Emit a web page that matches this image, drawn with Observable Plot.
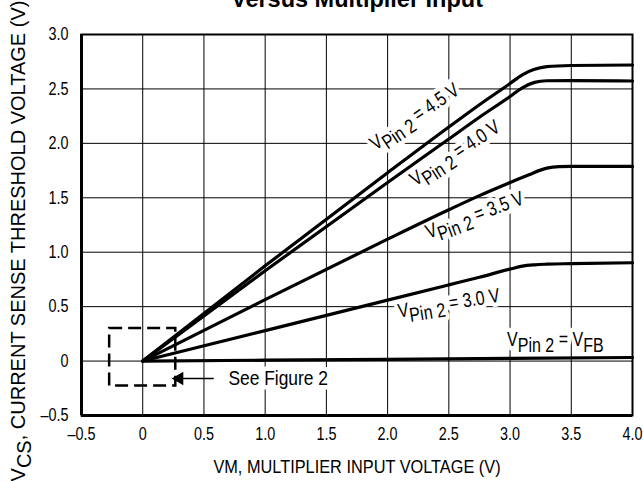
<!DOCTYPE html>
<html>
<head>
<meta charset="utf-8">
<script src="https://cdn.jsdelivr.net/npm/d3@7"></script>
<script src="https://cdn.jsdelivr.net/npm/@observablehq/plot@0.6"></script>
<style>
  body { margin: 0; background: white; }
</style>
</head>
<body>
<div id="chart"></div>
<script>
// ---- data ----
const xTicks = [-0.5, 0, 0.5, 1.0, 1.5, 2.0, 2.5, 3.0, 3.5, 4.0];
const yTicks = [-0.5, 0, 0.5, 1.0, 1.5, 2.0, 2.5, 3.0];

const vm45 = [0, 1.0, 2.0, 2.5, 2.75, 3.0, 3.1, 3.2, 3.3, 3.5, 4.0];
const vcs45 = [0, 0.875, 1.73, 2.15, 2.355, 2.55, 2.63, 2.68, 2.705, 2.715, 2.72];

const vm40 = [0, 1.0, 2.0, 2.5, 2.75, 3.0, 3.1, 3.2, 3.3, 3.5, 4.0];
const vcs40 = [0, 0.83, 1.64, 2.04, 2.24, 2.43, 2.51, 2.56, 2.575, 2.577, 2.573];

const vm35 = [0, 1.0, 2.0, 2.5, 2.75, 3.0, 3.15, 3.3, 3.4, 3.5, 4.0];
const vcs35 = [0, 0.565, 1.12, 1.39, 1.52, 1.64, 1.71, 1.772, 1.786, 1.788, 1.788];

const vm30 = [0, 1.0, 2.0, 2.5, 2.75, 3.0, 3.1, 3.2, 3.3, 3.5, 4.0];
const vcs30 = [0, 0.28, 0.56, 0.70, 0.77, 0.845, 0.872, 0.884, 0.89, 0.895, 0.903];

const vmFB = [0, 1.0, 2.0, 3.0, 4.0];
const vcsFB = [0, 0.008, 0.016, 0.025, 0.033];

const seriesNames = ["4.5", "4.0", "3.5", "3.0", "FB"];
const labelTexts = ["V_{Pin 2} = 4.5 V", "V_{Pin 2} = 4.0 V", "V_{Pin 2} = 3.5 V", "V_{Pin 2} = 3.0 V", "V_{Pin 2} = V_{FB}"];
const labelX = [2.22, 2.55, 2.71, 2.50, 3.37];
const labelY = [2.245, 1.91, 1.34, 0.53, 0.20];
const labelAngle = [-34, -33, -20, -9, 0];

const boxX = [-0.27, 0.27];
const boxY = [-0.23, 0.30];
const arrowX = [0.58, 0.30];
const arrowY = -0.16;
const noteText = "See Figure 2";
const noteX = 0.70;

const titleText = "Versus Multiplier Input";
const xTitle = "VM, MULTIPLIER INPUT VOLTAGE (V)";
const yTitle = "V_{CS}, CURRENT SENSE THRESHOLD VOLTAGE (V)";

// ---- build tables ----
const seriesX = [vm45, vm40, vm35, vm30, vmFB];
const seriesY = [vcs45, vcs40, vcs35, vcs30, vcsFB];
const rows = [];
seriesNames.forEach((s, i) => seriesX[i].forEach((x, j) => rows.push({s, x, y: seriesY[i][j]})));
const labels = labelTexts.map((t, i) => ({t, x: labelX[i], y: labelY[i], a: labelAngle[i]}));

const fmt = d => d === 0 ? "0" : (d < 0 ? "\u2013" : "") + Math.abs(d).toFixed(1);
const FONT = '"Liberation Sans", Arial, sans-serif';

const labelOpts = {x: "x", y: "y", text: "t", rotate: "a", fontSize: 20, textAnchor: "middle"};

const chart = Plot.plot({
  width: 643,
  height: 481,
  marginTop: 34,
  marginRight: 11,
  marginBottom: 66,
  marginLeft: 81,
  style: {fontFamily: FONT, background: "white", color: "black", overflow: "visible"},
  x: {domain: [-0.5, 4.0]},
  y: {domain: [-0.5, 3.0]},
  marks: [
    Plot.gridX({ticks: xTicks, stroke: "black", strokeOpacity: 1, strokeWidth: 1}),
    Plot.gridY({ticks: yTicks, stroke: "black", strokeOpacity: 1, strokeWidth: 1}),
    Plot.frame({stroke: "black", strokeWidth: 2}),
    Plot.ruleX([-0.5], {stroke: "black", strokeWidth: 3}),
    Plot.ruleY([-0.5], {stroke: "black", strokeWidth: 3}),
    Plot.axisX({ticks: xTicks, tickSize: 0, tickPadding: 12, tickFormat: fmt, label: null, fontSize: 18}),
    Plot.axisY({ticks: yTicks, tickSize: 0, tickPadding: 13, tickFormat: fmt, label: null, fontSize: 18}),
    // label halos (break gridlines)
    Plot.text(labels, {...labelOpts, fill: "white", stroke: "white", strokeWidth: 9}),
    Plot.text([noteText], {x: noteX, y: arrowY, text: d => d, textAnchor: "start", fontSize: 20, fill: "white", stroke: "white", strokeWidth: 9, className: "sx87"}),
    // dashed box
    Plot.rect([0], {x1: boxX[0], x2: boxX[1], y1: boxY[0], y2: boxY[1], fill: "none", stroke: "black", strokeWidth: 2.5, strokeDasharray: "13,6"}),
    // curves
    Plot.line(rows, {x: "x", y: "y", z: "s", stroke: "black", strokeWidth: 3.2, curve: "monotone-x"}),
    // arrow
    Plot.link([0], {x1: arrowX[0], y1: arrowY, x2: arrowX[1], y2: arrowY, stroke: "black", strokeWidth: 1.5}),
    Plot.dot([0], {x: arrowX[1], y: arrowY, symbol: "triangle", r: 5, rotate: -90, fill: "black", stroke: "none"}),
    // labels
    Plot.text(labels, {...labelOpts, fill: "black"}),
    Plot.text([noteText], {x: noteX, y: arrowY, text: d => d, textAnchor: "start", fontSize: 20, fill: "black", className: "sx87"}),
    // titles
    Plot.text([titleText], {frameAnchor: "top", lineAnchor: "middle", dy: -35.5, text: d => d, fontSize: 23.5, fontWeight: "bold", className: "sx100"}),
    Plot.text([xTitle], {frameAnchor: "bottom", lineAnchor: "middle", textAnchor: "middle", dy: 51, text: d => d, fontSize: 19, className: "sx86"}),
    Plot.text([yTitle], {frameAnchor: "left", lineAnchor: "middle", textAnchor: "middle", dx: -63, dy: 16, rotate: -90, text: d => d, fontSize: 20, className: "sx100"})
  ]
});

// subscripts: turn "_{...}" into lowered tspans
const ns = "http://www.w3.org/2000/svg";
chart.querySelectorAll("text").forEach(node => {
  const s = node.textContent;
  if (!s.includes("_{")) return;
  while (node.firstChild) node.removeChild(node.firstChild);
  const parts = s.split(/(_\{[^}]*\})/);
  let lowered = false;
  parts.forEach(p => {
    if (!p) return;
    const t = document.createElementNS(ns, "tspan");
    if (p.startsWith("_{")) {
      t.textContent = p.slice(2, -1);
      if (!lowered) t.setAttribute("dy", "0.3em");
      lowered = true;
    } else {
      t.textContent = p;
      if (lowered) t.setAttribute("dy", "-0.3em");
      lowered = false;
    }
    node.appendChild(t);
  });
});

// condense the sans face along the text direction to mimic the narrow lettering
chart.querySelectorAll("text").forEach(node => {
  let k = 0.8;
  if (node.closest(".sx100")) k = 1;
  else if (node.closest(".sx87")) k = 0.87;
  else if (node.closest(".sx86")) k = 0.86;
  if (k === 1) return;
  const tr = node.getAttribute("transform") || "";
  const x = node.getAttribute("x");
  if (x !== null && !isNaN(+x)) {
    node.removeAttribute("x");
    node.setAttribute("transform", `${tr} translate(${+x},0) scale(${k},1)`.trim());
  } else {
    node.setAttribute("transform", `${tr} scale(${k},1)`.trim());
  }
});

document.getElementById("chart").appendChild(chart);
</script>
</body>
</html>
